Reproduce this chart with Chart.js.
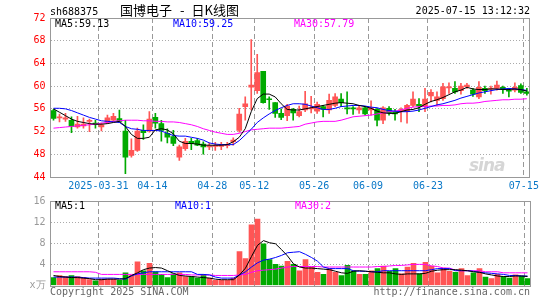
<!DOCTYPE html>
<html>
<head>
<meta charset="utf-8">
<script src="https://cdn.jsdelivr.net/npm/chart.js@4.4.1/dist/chart.umd.min.js"></script>
<style>
  body { margin: 0; background: #fff; }
  #wrap { position: relative; width: 545px; height: 300px; background: #fff; overflow: hidden; }
  canvas { position: absolute; left: 0; }
  .t { position: absolute; font: 10px 'DejaVu Sans Mono', monospace; line-height: 12px; white-space: pre; }
  .cn { font: 13px 'Noto Sans CJK SC', sans-serif; line-height: 15px; }
  .cn span { display: inline-block; }
  .logo { position: absolute; font: italic bold 17px 'DejaVu Sans', sans-serif; color: #d6d6d6; letter-spacing: -1px; }
</style>
</head>
<body>
<div id="wrap">
  <canvas id="kline" width="545" height="196" style="top:0"></canvas>
  <canvas id="vol" width="545" height="110" style="top:190px"></canvas>
  <div class="t" style="left:50px;top:6px">sh688375</div>
  <div class="t cn" style="left:120px;top:2px"><span>国博电子</span><span style="margin-left:8px">-</span><span style="margin-left:7px">日K线图</span></div>
  <div class="t" style="right:15px;top:5px">2025-07-15 13:12:32</div>
  <div class="t" style="left:55px;top:18px;color:#000">MA5:59.13</div>
  <div class="t" style="left:173px;top:18px;color:#0000ff">MA10:59.25</div>
  <div class="t" style="left:294px;top:18px;color:#ff00ff">MA30:57.79</div>
  <div class="logo" style="left:469px;top:155px">sina</div>
  <div class="t" style="left:55px;top:200px;color:#000">MA5:1</div>
  <div class="t" style="left:175px;top:200px;color:#0000ff">MA10:1</div>
  <div class="t" style="left:295px;top:200px;color:#ff00ff">MA30:2</div>
  <div class="t" style="left:50px;top:286px;color:#666">Copyright 2025 SINA.COM</div>
  <div class="t" style="right:15px;top:286px;color:#666">http://finance.sina.com.cn</div>
</div>
<script>
// trading days shown on the chart
var dates = [
  '2025-03-19','2025-03-20','2025-03-21','2025-03-24','2025-03-25','2025-03-26','2025-03-27','2025-03-28','2025-03-31',
  '2025-04-01','2025-04-02','2025-04-03','2025-04-07','2025-04-08','2025-04-09','2025-04-10','2025-04-11',
  '2025-04-14','2025-04-15','2025-04-16','2025-04-17','2025-04-18','2025-04-21','2025-04-22','2025-04-23','2025-04-24','2025-04-25',
  '2025-04-28','2025-04-29','2025-04-30','2025-05-06','2025-05-07','2025-05-08','2025-05-09',
  '2025-05-12','2025-05-13','2025-05-14','2025-05-15','2025-05-16','2025-05-19','2025-05-20','2025-05-21','2025-05-22','2025-05-23',
  '2025-05-26','2025-05-27','2025-05-28','2025-05-29','2025-05-30','2025-06-03','2025-06-04','2025-06-05','2025-06-06',
  '2025-06-09','2025-06-10','2025-06-11','2025-06-12','2025-06-13','2025-06-16','2025-06-17','2025-06-18','2025-06-19','2025-06-20',
  '2025-06-23','2025-06-24','2025-06-25','2025-06-26','2025-06-27','2025-06-30','2025-07-01','2025-07-02','2025-07-03','2025-07-04',
  '2025-07-07','2025-07-08','2025-07-09','2025-07-10','2025-07-11','2025-07-14','2025-07-15'
];
var tickDates = ['2025-03-31','2025-04-14','2025-04-28','2025-05-12','2025-05-26','2025-06-09','2025-06-23','2025-07-15'];
var tickText  = ['2025-03-31','04-14','04-28','05-12','05-26','06-09','06-23','07-15'];

var open  = [55.7,54.4,54.2,54.0,52.8,53.0,53.8,53.5,52.8,53.7,54.0,54.3,52.1,47.8,48.7,52.2,52.1,54.5,53.4,51.7,
             51.1,47.5,49.0,50.3,50.4,49.8,49.3,49.4,49.4,49.5,50.2,52.2,56.4,59.8,59.2,62.6,57.7,57.1,55.2,54.8,
             55.9,54.8,55.8,56.0,55.6,56.4,55.8,56.6,57.7,56.1,56.1,55.8,56.2,55.8,55.9,54.0,56.1,55.5,55.7,55.5,
             56.6,56.8,56.5,58.3,57.5,57.8,59.7,59.6,59.2,59.9,59.3,58.1,59.6,59.5,59.6,59.8,59.2,59.3,60.1,59.0];
var high  = [55.9,55.1,55.2,54.6,54.7,54.4,54.2,54.0,53.5,54.9,55.2,55.8,54.0,50.7,52.6,53.2,55.5,55.2,54.0,52.5,
             52.2,49.6,50.8,50.8,50.8,50.2,50.0,50.1,50.1,50.1,50.9,56.1,58.1,68.2,65.6,62.6,58.1,57.1,56.0,56.8,
             56.1,56.5,59.1,58.2,57.2,56.6,58.6,58.7,58.7,59.0,56.4,56.5,56.4,57.4,56.1,56.4,56.4,55.9,56.2,56.8,
             59.0,57.8,59.6,59.4,59.0,60.5,60.6,60.8,60.5,60.5,59.6,60.8,60.0,60.0,60.9,60.0,59.6,60.6,60.4,59.6];
var low   = [54.0,53.7,53.8,51.8,52.6,52.6,52.0,52.6,52.1,53.4,53.8,53.6,44.6,47.5,48.5,50.6,51.9,52.6,50.3,50.0,
             49.5,46.9,48.7,48.8,49.5,48.0,48.8,48.7,48.8,49.1,49.6,51.9,54.0,55.8,58.7,57.0,55.9,54.5,54.1,53.9,
             54.0,54.6,55.5,55.3,55.2,54.6,55.2,56.4,56.4,55.1,55.0,55.2,54.9,54.9,53.0,53.4,54.9,54.0,53.7,53.5,
             56.4,55.5,55.5,57.2,56.6,57.5,58.7,58.7,58.6,59.6,58.2,57.8,58.7,58.6,59.3,58.7,58.1,59.0,58.7,58.4];
var close = [54.3,54.6,54.4,52.9,53.3,53.3,53.9,53.3,53.2,54.4,54.7,53.8,47.5,48.7,52.1,51.8,54.2,53.5,52.2,51.0,
             49.9,49.3,50.3,49.9,49.6,49.3,49.4,49.5,49.6,49.7,50.5,55.1,56.9,60.2,62.4,57.1,57.6,55.2,54.5,56.5,
             55.3,55.5,56.9,56.1,56.8,55.9,57.5,58.1,57.1,56.0,56.0,56.2,55.1,56.2,54.0,56.2,55.3,55.1,55.8,56.6,
             57.7,56.5,57.7,58.9,58.1,59.9,59.8,59.0,60.0,60.2,58.6,59.8,59.2,59.6,60.2,59.5,59.1,59.8,58.9,58.7];

var ma5  = [56.0,55.4,54.8,54.2,53.8,53.6,53.4,53.3,53.3,53.4,53.6,53.8,52.9,51.5,50.8,50.8,51.0,52.3,52.5,52.3,
            51.6,50.3,49.9,49.9,49.8,49.6,49.6,49.6,49.6,49.7,50.2,51.0,52.5,55.5,57.8,58.6,58.6,58.1,56.9,55.9,
            55.8,55.8,56.0,56.2,56.4,56.6,56.8,57.0,57.1,57.0,56.9,56.6,56.4,56.1,55.6,55.3,55.2,55.2,55.5,55.8,
            55.9,56.2,56.8,57.3,57.6,58.0,58.5,59.0,59.3,59.8,59.5,59.4,59.4,59.5,59.5,59.4,59.4,59.5,59.4,59.13];
var ma10 = [56.1,56.1,56.0,55.7,55.3,54.9,54.5,54.2,53.9,53.8,53.7,53.6,52.9,52.5,52.4,52.2,52.2,52.2,52.1,51.7,
            51.3,51.2,51.2,51.0,50.8,50.5,50.0,49.8,49.7,49.7,49.7,50.4,51.4,52.4,53.6,54.4,55.1,55.7,56.2,56.6,
            56.9,56.9,56.8,56.5,56.2,55.9,55.9,56.1,56.4,56.5,56.6,56.6,56.5,56.3,56.2,55.9,55.7,55.6,55.5,55.5,
            55.6,55.8,56.1,56.4,56.7,56.9,57.2,57.5,57.9,58.2,58.5,58.8,59.0,59.2,59.4,59.5,59.6,59.5,59.4,59.25];
var ma30 = [52.6,52.7,52.8,52.9,53.0,53.1,53.2,53.3,53.5,53.6,53.8,53.9,54.0,54.0,54.0,53.9,53.9,53.8,53.8,53.7,
            53.7,53.6,53.4,53.2,52.9,52.5,52.2,51.9,51.7,51.5,51.5,51.7,52.0,52.3,52.4,52.5,52.6,52.6,52.6,52.7,
            52.8,52.9,53.3,53.5,53.7,53.8,53.8,53.8,54.0,54.3,54.6,54.7,54.8,54.9,55.1,55.3,55.5,55.6,55.8,56.1,
            56.3,56.4,56.4,56.5,56.5,56.6,56.6,56.7,56.9,57.0,57.0,57.1,57.3,57.4,57.5,57.6,57.6,57.7,57.7,57.79];

// volume (x万)
var vol   = [1.5,1.9,1.7,1.9,1.7,1.5,1.1,0.9,1.2,1.2,1.2,1.0,2.4,1.9,4.5,2.8,4.2,2.6,2.1,1.5,
             2.2,2.4,1.7,1.7,1.4,2.1,1.4,1.0,1.0,1.0,1.4,6.4,5.1,11.5,12.6,7.9,4.9,4.0,3.7,4.6,
             4.0,2.8,4.9,3.5,2.5,2.1,3.2,2.5,1.9,3.8,2.8,2.1,2.1,2.8,3.2,3.7,2.7,3.2,2.2,3.5,
             4.2,2.2,4.4,3.7,2.4,3.3,2.7,2.5,3.2,1.9,2.4,3.2,1.6,1.3,2.1,1.7,1.4,2.0,1.8,1.3];
var vma5  = [1.9,1.7,1.6,1.5,1.5,1.4,1.3,1.1,1.1,1.2,1.2,1.2,1.3,1.9,2.4,3.0,3.3,3.4,3.3,2.8,
             2.3,1.9,1.8,1.7,1.6,1.5,1.4,1.2,1.1,1.1,1.1,2.0,3.3,5.5,7.6,8.5,8.1,7.9,6.8,5.6,
             4.1,3.5,3.3,3.3,3.2,3.1,3.0,2.7,2.4,2.3,2.7,2.8,2.7,2.6,2.5,2.4,2.4,2.2,2.1,2.2,
             2.2,2.2,2.3,2.7,2.9,3.0,3.0,3.0,2.9,2.8,2.6,2.5,2.2,2.0,1.8,1.7,1.7,1.8,1.8,1.7];
var vma10 = [1.6,1.6,1.6,1.6,1.6,1.5,1.4,1.4,1.4,1.4,1.4,1.3,1.2,1.8,2.2,2.4,2.6,2.6,2.6,2.6,
             2.6,2.6,2.6,2.6,2.1,2.1,2.0,1.6,1.4,1.4,1.4,2.0,2.6,3.5,4.3,4.8,5.0,5.3,5.7,6.2,
             6.3,6.4,5.9,5.3,4.6,3.5,3.2,3.2,3.2,3.2,2.8,2.7,2.7,2.6,2.6,2.8,2.8,2.8,2.8,2.8,
             2.8,2.8,2.8,3.0,3.2,3.2,3.2,2.8,2.8,2.8,2.7,2.5,2.4,2.3,2.2,2.1,1.9,1.9,1.8,1.8];
var vma30 = [2.6,2.6,2.6,2.6,2.6,2.6,2.6,2.5,2.1,2.1,2.1,2.1,2.1,2.1,2.1,2.1,2.1,2.1,2.1,2.1,
             2.1,2.1,2.1,2.0,2.0,2.0,2.0,1.9,1.9,1.9,1.9,2.0,2.1,2.5,2.8,2.9,3.0,3.1,3.3,3.5,
             3.6,3.6,3.6,3.6,3.6,3.5,3.5,3.5,3.5,3.5,3.5,3.5,3.5,3.5,3.6,3.6,3.7,3.8,3.8,3.9,
             4.0,4.0,4.0,3.7,3.6,3.3,3.3,2.9,2.8,2.8,2.8,2.8,2.6,2.6,2.6,2.4,2.4,2.4,2.4,2.4];

const UP = '#ff5555';
const DOWN = '#00aa00';
const mono = { family: 'DejaVu Sans Mono', size: 10 };
var colors = close.map(function (c, i) { return c >= open[i] ? UP : DOWN; });

// vertical dashed lines only on the labelled days
function dateGrid(ctx) {
  var d = dates[ctx.index];
  return tickDates.indexOf(d) >= 0 ? '#999' : 'rgba(0,0,0,0)';
}

const framePlugin = {
  id: 'frame',
  afterDraw(chart) {
    const a = chart.chartArea;
    const c = chart.ctx;
    c.save();
    c.strokeStyle = '#999';
    c.lineWidth = 1;
    c.strokeRect(Math.floor(a.left) + 0.5, Math.floor(a.top) + 0.5,
      Math.round(a.right - a.left), Math.round(a.bottom - a.top));
    c.restore();
  }
};

function lineSet(data, color) {
  return { type: 'line', data: data, borderColor: color, borderWidth: 1, pointRadius: 0, tension: 0, order: 0 };
}

const kChart = new Chart(document.getElementById('kline'), {
  type: 'bar',
  data: {
    labels: dates,
    datasets: [
      lineSet(ma5, '#000000'),
      lineSet(ma10, '#0000ff'),
      lineSet(ma30, '#ff00ff'),
      {
        data: open.map(function (o, i) { return [o, close[i]]; }),
        backgroundColor: colors,
        barThickness: 5,
        minBarLength: 1,
        grouped: false,
        order: 1
      },
      {
        data: low.map(function (l, i) { return [l, high[i]]; }),
        backgroundColor: colors,
        barThickness: 1,
        grouped: false,
        order: 2
      }
    ]
  },
  options: {
    responsive: false,
    animation: false,
    events: [],
    layout: { padding: { top: 18, right: 14.5, left: 0, bottom: 0 } },
    plugins: { legend: { display: false }, tooltip: { enabled: false } },
    scales: {
      x: {
        offset: true,
        grid: { offset: true, drawTicks: false, color: dateGrid, lineWidth: 1 },
        border: { display: false, dash: [5, 3] },
        ticks: {
          autoSkip: false, maxRotation: 0, minRotation: 0, labelOffset: -3, padding: 3,
          color: '#0a78c8', font: mono,
          callback: function (v, i) {
            var j = tickDates.indexOf(dates[i]);
            return j >= 0 ? tickText[j] : '';
          }
        },
        afterFit: function (s) { s.height = 19; }
      },
      y: {
        min: 44, max: 72,
        grid: {
          drawTicks: false,
          color: function (ctx) { return (ctx.tick.value === 44 || ctx.tick.value === 72) ? 'rgba(0,0,0,0)' : '#aaa'; }
        },
        border: { display: false, dash: [1, 2] },
        ticks: { stepSize: 4, color: '#ff0000', padding: 5, font: mono },
        afterFit: function (s) { s.width = 50.5; }
      }
    }
  },
  plugins: [framePlugin]
});

const vChart = new Chart(document.getElementById('vol'), {
  type: 'bar',
  data: {
    labels: dates,
    datasets: [
      lineSet(vma5, '#000000'),
      lineSet(vma10, '#0000ff'),
      lineSet(vma30, '#ff00ff'),
      { data: vol, backgroundColor: colors, barThickness: 5, grouped: false, order: 1 }
    ]
  },
  options: {
    responsive: false,
    animation: false,
    events: [],
    layout: { padding: { top: 11, right: 14.5, left: 0, bottom: 14.5 } },
    plugins: { legend: { display: false }, tooltip: { enabled: false } },
    scales: {
      x: {
        offset: true,
        grid: { offset: true, drawTicks: false, color: dateGrid, lineWidth: 1 },
        border: { display: false, dash: [5, 3] },
        ticks: { display: false },
        afterFit: function (s) { s.height = 0; }
      },
      y: {
        min: 0, max: 16,
        grid: {
          drawTicks: false,
          color: function (ctx) { return (ctx.tick.value === 0 || ctx.tick.value === 16) ? 'rgba(0,0,0,0)' : '#aaa'; }
        },
        border: { display: false, dash: [1, 2] },
        ticks: {
          stepSize: 4, color: '#999', padding: 5, font: mono,
          callback: function (v) { return v === 0 ? 'x万' : v; }
        },
        afterFit: function (s) { s.width = 50.5; }
      }
    }
  },
  plugins: [framePlugin]
});
</script>
</body>
</html>
